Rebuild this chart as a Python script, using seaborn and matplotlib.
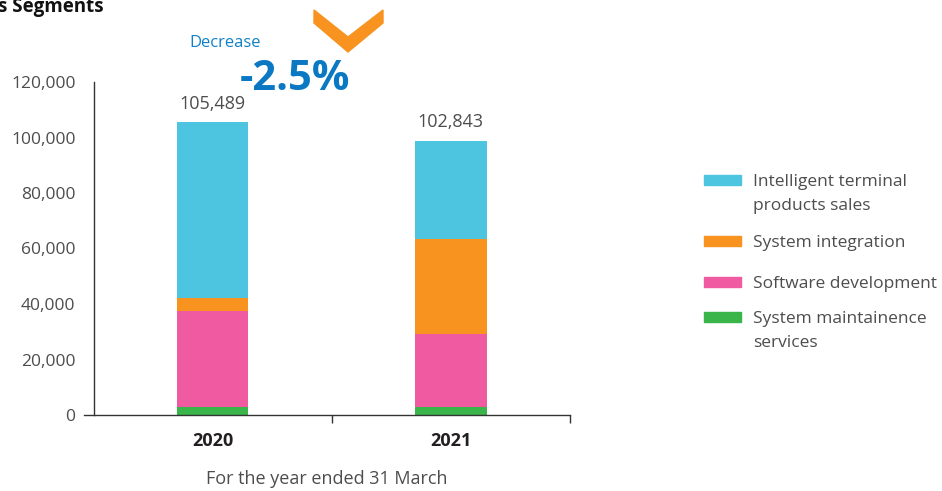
import numpy as np
import pandas as pd
import matplotlib
matplotlib.use("Agg")
import matplotlib.pyplot as plt
import seaborn as sns
from matplotlib.patches import Rectangle, Polygon

years = ["2020", "2021"]
segments = ["System maintainence\nservices", "Software development",
            "System integration", "Intelligent terminal\nproducts sales"]
maintenance = [2900, 2900]
software = [34600, 26300]
integration = [4800, 34100]
terminal = [63189, 35400]
totals = ["105,489", "102,843"]
colors = ["#39b54a", "#ef5aa0", "#f7931e", "#4dc4e0"]

sns.set_style("white")
plt.rcParams['font.family'] = ['Open Sans', 'DejaVu Sans']
grey = "#4d4d4d"

fig = plt.figure(figsize=(9.42, 4.91), dpi=100)
ax = fig.add_axes([84 / 942, 1 - 415 / 491, 486 / 942, 333 / 491])

# stacked bars, bottom segment first
df = pd.DataFrame({"year": years, "m": maintenance, "s": software,
                   "i": integration, "t": terminal})
bottom = np.zeros(len(years))
for col, c in zip(["m", "s", "i", "t"], colors):
    sns.barplot(data=df, x="year", y=col, color=c, width=0.3,
                bottom=bottom, ax=ax, saturation=1, linewidth=0)
    bottom = bottom + df[col].values

for i, lab in enumerate(totals):
    ax.annotate(lab, (i, bottom[i]), xytext=(0, 7), textcoords="offset points",
                ha="center", va="bottom", fontsize=13, color=grey)

ax.set_xlim(-0.54, 1.5)
ax.set_ylim(0, 120000)
ax.spines["left"].set_position(("data", -0.5))
for s in ["top", "right"]:
    ax.spines[s].set_visible(False)
for s in ["left", "bottom"]:
    ax.spines[s].set_color("#333333")
    ax.spines[s].set_linewidth(1.0)

ax.set_yticks(np.arange(0, 120001, 20000))
ax.set_yticklabels([f"{v:,}" for v in range(0, 120001, 20000)])
ax.tick_params(axis="y", length=0, pad=13, labelsize=12.5, labelcolor=grey)
ax.set_yticks([120000], minor=True)
ax.tick_params(axis="y", which="minor", length=6, width=1.0, color="#333333", left=True)

ax.set_xticks([0, 1])
ax.set_xticklabels(years, fontweight="bold", fontsize=13, color="#231f20")
ax.tick_params(axis="x", length=0, pad=12)
ax.set_xticks([0.5, 1.5], minor=True)
ax.tick_params(axis="x", which="minor", length=6, width=1.0, color="#333333", bottom=True)
ax.set_xlabel("For the year ended 31 March", fontsize=13, color=grey, labelpad=15)
ax.set_ylabel("")

# legend drawn by hand so the patch sits on the first text line
W, H = 942, 491
leg_y = [180, 241, 282, 317]
for name, c, y in zip(segments[::-1], colors[::-1], leg_y):
    fig.patches.append(Rectangle((704 / W, 1 - (y + 5) / H), 37 / W, 10 / H,
                                 transform=fig.transFigure, color=c))
    fig.text(753 / W, 1 - (y - 6) / H, name, fontsize=12.5, color=grey,
             va="top", ha="left", linespacing=1.7)

# header decoration
fig.text(-2 / W, 1 - 12 / H, "s Segments", fontsize=13.5, fontweight="bold",
         color="#111111", va="baseline", ha="left")
fig.text(225 / W, 1 - 43 / H, "Decrease", fontsize=12, color="#1180c8",
         ha="center", va="center")
fig.text(240 / W, 1 - 90 / H, "-2.5%", fontsize=30, fontweight="bold",
         color="#0a78c2", ha="left", va="baseline")
chev = [(314, 10), (348, 37), (383, 10), (383, 23), (348, 52), (314, 23)]
fig.patches.append(Polygon([(x / W, 1 - y / H) for x, y in chev], closed=True,
                           transform=fig.transFigure, color="#f7931e"))

fig.savefig("out.png", dpi=100)
